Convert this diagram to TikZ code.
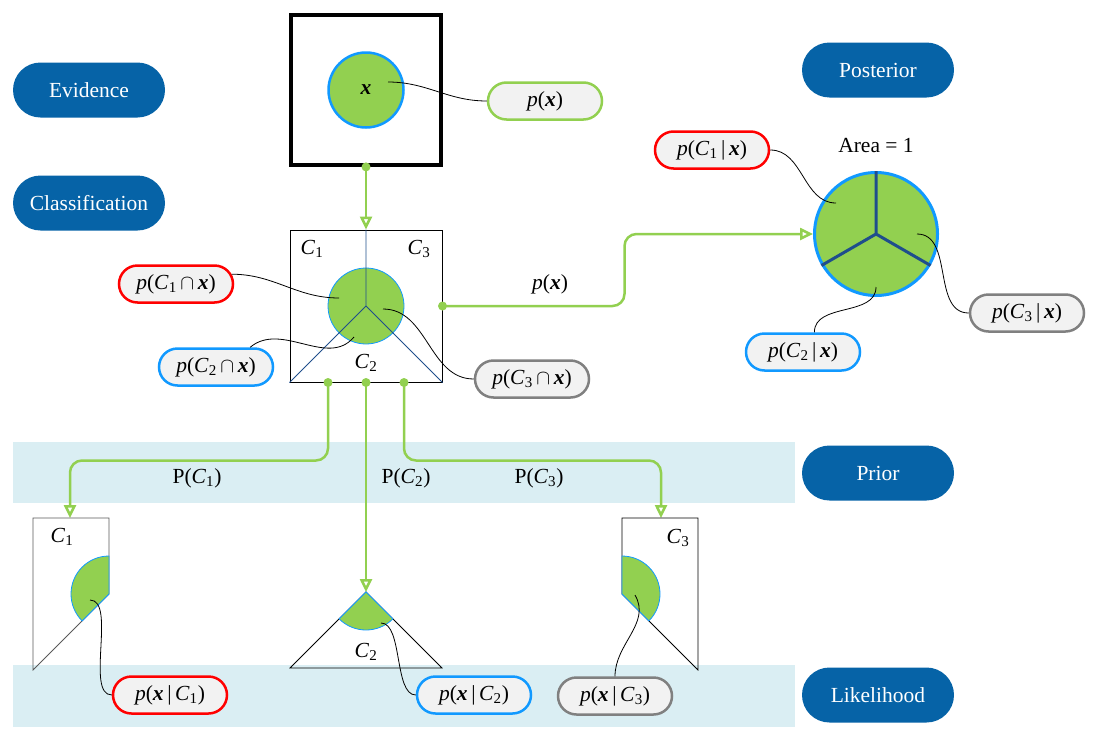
\documentclass[tikz,border=0pt]{standalone}
\usepackage{fontspec}
\setmainfont{Liberation Serif}
\usetikzlibrary{arrows.meta,shapes.misc,positioning}
\definecolor{leaf}{RGB}{146,208,80}
\definecolor{sky}{RGB}{17,153,255}
\definecolor{navy}{RGB}{6,99,167}
\definecolor{band}{RGB}{218,238,243}
\definecolor{pale}{RGB}{242,242,242}
\definecolor{rule}{RGB}{31,78,140}
\newcommand{\pp}{\textit{p}}
\newcommand{\xx}{\textbf{\textit{x}}}
\newcommand{\cc}[1]{\textit{C}\textsubscript{#1}}
\begin{document}
\begin{tikzpicture}[x=1pt,y=-1pt,font=\fontsize{21.5}{25}\selectfont]
	\tikzstyle{tag}=[rounded rectangle,fill=navy,text=white,minimum width=152pt,minimum height=55pt,inner sep=0pt]
	\tikzstyle{prob}=[rounded rectangle,fill=pale,line width=2.5pt,minimum width=114pt,minimum height=37pt,inner sep=0pt]
	\tikzstyle{flow}=[leaf,line width=2.5pt,rounded corners=12pt,-{Triangle[open,length=13pt,width=12pt]}]
	\tikzstyle{wire}=[black,line width=0.8pt]
	\tikzstyle{wedge}=[fill=leaf,draw=sky,line width=0.8pt]
	\useasboundingbox (0,0) rectangle (1097,747);
	\fill[band] (13,442) rectangle (795,503);
	\fill[band] (13,665) rectangle (795,727);
	\node[tag] (evidence) at (89,90) {Evidence};
	\node[tag] (classif) at (89,203) {Classification};
	\node[tag] (posterior) at (878,70) {Posterior};
	\node[tag] (prior) at (878,473) {Prior};
	\node[tag] (likelihood) at (878,695) {Likelihood};
	\node[draw,line width=3.8pt,minimum size=150pt] (xbox) at (366,90) {};
	\node[circle,fill=leaf,draw=sky,line width=2.5pt,minimum size=75pt] (xball) at (366,90) {\xx};
	\node[prob,draw=leaf] (px) at (545,101) {\pp(\xx)};
	\coordinate (xin) at (388,82);
	\draw[wire] (xin) to[out=0,in=180] (px.west);
	\node[draw,line width=1pt,minimum size=152pt] (joint) at (366,306) {};
	\node[circle,fill=leaf,draw=sky,line width=0.8pt,minimum size=76pt] (jball) at (366,306) {};
	\draw[rule,line width=0.8pt] (joint.north) -- (jball.center) -- (joint.south west) (jball.center) -- (joint.south east);
	\node at (312,249) {\cc1};
	\node at (419,249) {\cc3};
	\node at (366,363) {\cc2};
	\draw[flow] (xbox.south) -- (joint.north);
	\fill[leaf] (xbox.south) circle[radius=4.5pt];
	\node[prob,draw=red] (c1x) at (176,284) {\pp(\cc1\,$\cap$\,\xx)};
	\node[prob,draw=sky] (c2x) at (216,367) {\pp(\cc2\,$\cap$\,\xx)};
	\node[prob,draw=gray] (c3x) at (532,379) {\pp(\cc3\,$\cap$\,\xx)};
	\coordinate (j1) at (339,298);
	\coordinate (j2) at (354,337);
	\coordinate (j3) at (383,309);
	\draw[wire] (c1x.10) to[out=0,in=180] (j1);
	\draw[wire] (c2x.30) to[out=40,in=-130] (j2);
	\draw[wire] (j3) to[out=0,in=180] (c3x.west);
	\node[circle,fill=leaf,draw=sky,line width=3pt,minimum size=123pt] (post) at (876,234) {};
	\draw[rule,line width=3pt] (post.north) -- (post.center) -- (post.210) (post.center) -- (post.-30);
	\node (area) at (876,146) {Area = 1};
	\draw[flow] (joint.east) -- ++(182,0) |- (post.west);
	\fill[leaf] (joint.east) circle[radius=4.5pt];
	\node at (550,284) {\pp(\xx)};
	\node[prob,draw=red] (c1p) at (712,150) {\pp(\cc1\,|\,\xx)};
	\node[prob,draw=sky] (c2p) at (803,352) {\pp(\cc2\,|\,\xx)};
	\node[prob,draw=gray] (c3p) at (1027,313) {\pp(\cc3\,|\,\xx)};
	\coordinate (q1) at (836,203);
	\coordinate (q2) at (876,287);
	\coordinate (q3) at (917,234);
	\draw[wire] (c1p.east) to[out=0,in=180] (q1);
	\draw[wire] (c2p.60) to[out=90,in=-90] (q2);
	\draw[wire] (q3) to[out=0,in=180] (c3p.west);
	\coordinate (lk1) at (70,518);
	\coordinate (lk2) at (366,592);
	\coordinate (lk3) at (661,518);
	\draw[flow] ([xshift=-38pt]joint.south) -- ++(0,78) -| (lk1);
	\draw[flow] (joint.south) -- (lk2);
	\draw[flow] ([xshift=38pt]joint.south) -- ++(0,78) -| (lk3);
	\foreach \dx in {-38,0,38}
		\fill[leaf] ([xshift=\dx pt]joint.south) circle[radius=4.5pt];
	\node at (197,478) {P(\cc1)};
	\node at (406,478) {P(\cc2)};
	\node at (539,478) {P(\cc3)};
	\draw[gray!70!black,line width=0.8pt] (33,518) -- (109,518) -- (109,594) -- (33,670) -- cycle;
	\draw[wedge] (109,594) -- ++(90:38pt) arc[start angle=90,end angle=225,radius=38pt] -- cycle;
	\node at (62,537) {\cc1};
	\draw[line width=0.8pt] (290,668) -- (442,668) -- (366,592) -- cycle;
	\draw[wedge] (366,592) -- ++(225:38pt) arc[start angle=225,end angle=315,radius=38pt] -- cycle;
	\node at (366,652) {\cc2};
	\draw[line width=0.8pt] (622,518) -- (698,518) -- (698,670) -- (622,594) -- cycle;
	\draw[wedge] (622,594) -- ++(-45:38pt) arc[start angle=-45,end angle=90,radius=38pt] -- cycle;
	\node at (678,538) {\cc3};
	\node[prob,draw=red] (xc1) at (170,695) {\pp(\xx\,|\,\cc1)};
	\node[prob,draw=sky] (xc2) at (474,695) {\pp(\xx\,|\,\cc2)};
	\node[prob,draw=gray] (xc3) at (615,696) {\pp(\xx\,|\,\cc3)};
	\coordinate (k1) at (90,600);
	\coordinate (k2) at (381,623);
	\coordinate (k3) at (635,595);
	\draw[wire] (xc1.west) to[out=180,in=0,looseness=0.7] (k1);
	\draw[wire] (xc2.west) to[out=180,in=0,looseness=0.7] (k2);
	\draw[wire] (xc3.north) to[out=90,in=-60] (k3);
\end{tikzpicture}
\end{document}
